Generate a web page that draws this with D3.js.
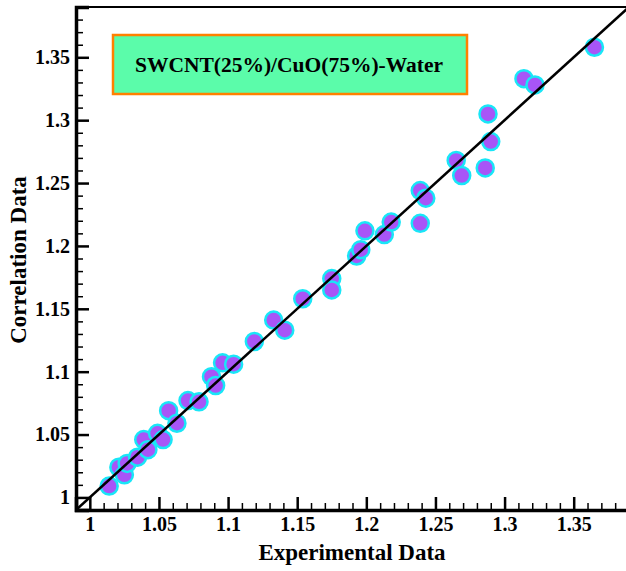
<!DOCTYPE html>
<html>
<head>
<meta charset="utf-8">
<script src="https://cdn.jsdelivr.net/npm/d3@7"></script>
<style>
  body { margin: 0; background: #fff; }
  text { font-family: "Liberation Serif", "Times New Roman", serif; font-weight: bold; fill: #000; }
</style>
</head>
<body>
<div id="chart"></div>
<script>
// experimental vs correlation values
var experimental = [1.014, 1.021, 1.025, 1.027, 1.0345, 1.039, 1.042, 1.049, 1.053, 1.057, 1.063,
    1.071, 1.079, 1.088, 1.091, 1.096, 1.104, 1.119, 1.133, 1.141, 1.154, 1.175, 1.175,
    1.193, 1.196, 1.199, 1.213, 1.218, 1.239, 1.243, 1.239, 1.265, 1.269, 1.286, 1.288,
    1.290, 1.314, 1.322, 1.365]
var correlation = [1.009, 1.024, 1.018, 1.027, 1.032, 1.046, 1.038, 1.051, 1.046, 1.069, 1.059,
    1.077, 1.076, 1.096, 1.089, 1.107, 1.106, 1.124, 1.141, 1.133, 1.158, 1.174, 1.165,
    1.192, 1.197, 1.212, 1.209, 1.219, 1.244, 1.238, 1.218, 1.268, 1.256, 1.262, 1.305,
    1.283, 1.333, 1.328, 1.358]

var xTickLabels = ["1", "1.05", "1.1", "1.15", "1.2", "1.25", "1.3", "1.35"]
var yTickLabels = ["1", "1.05", "1.1", "1.15", "1.2", "1.25", "1.3", "1.35"]
var legendLabel = "SWCNT(25%)/CuO(75%)-Water"

function draw() {
    const W = 626, H = 571
    const mLeft = 76, mTop = 7, mRight = 629, mBottom = 510
    const domain = [0.99, 1.39]

    var svg = d3.select("#chart").append("svg")
        .attr("width", W)
        .attr("height", H)

    var x = d3.scaleLinear().domain(domain).range([mLeft, mRight])
    var y = d3.scaleLinear().domain(domain).range([mBottom, mTop])

    var majors = xTickLabels.map(Number)
    var minors = d3.range(99, 139).map(d => d / 100).filter(v => !majors.some(m => Math.abs(m - v) < 1e-6))

    // frame (right side runs off the image like the original)
    svg.append("rect")
        .attr("x", mLeft).attr("y", mTop)
        .attr("width", mRight - mLeft).attr("height", mBottom - mTop)
        .attr("fill", "none").attr("stroke", "#000").attr("stroke-width", 2)

    // legend box
    svg.append("rect")
        .attr("x", 113).attr("y", 35)
        .attr("width", 354).attr("height", 59)
        .attr("fill", "#5bfcaa").attr("stroke", "#ff8000").attr("stroke-width", 2.5)
    svg.append("text")
        .attr("x", 289).attr("y", 72)
        .attr("text-anchor", "middle")
        .style("font-size", "21.5px")
        .text(legendLabel)

    // points
    var pts = experimental.map((v, i) => ({ e: v, c: correlation[i] }))
    svg.append("g").selectAll("circle")
        .data(pts)
        .enter().append("circle")
        .attr("cx", d => x(d.e))
        .attr("cy", d => y(d.c))
        .attr("r", 8.5)
        .attr("fill", "#a855f7")
        .attr("stroke", "#19e6f7")
        .attr("stroke-width", 2.5)

    // y = x line, on top of the points
    svg.append("line")
        .attr("x1", x(domain[0])).attr("y1", y(domain[0]))
        .attr("x2", x(domain[1])).attr("y2", y(domain[1]))
        .attr("stroke", "#000").attr("stroke-width", 2.5)

    // axes: ticks point inward
    var xAxis = svg.append("g")
        .attr("transform", "translate(0," + mBottom + ")")
        .call(d3.axisBottom(x).tickValues(majors).tickSize(-13).tickPadding(7)
            .tickFormat((d, i) => xTickLabels[i]))
    svg.append("g")
        .attr("transform", "translate(0," + mBottom + ")")
        .call(d3.axisBottom(x).tickValues(minors).tickSize(-7).tickFormat(""))
        .call(g => g.select(".domain").remove())

    var yAxis = svg.append("g")
        .attr("transform", "translate(" + mLeft + ",0)")
        .call(d3.axisLeft(y).tickValues(majors).tickSize(-13).tickPadding(6)
            .tickFormat((d, i) => yTickLabels[i]))
    svg.append("g")
        .attr("transform", "translate(" + mLeft + ",0)")
        .call(d3.axisLeft(y).tickValues(minors).tickSize(-7).tickFormat(""))
        .call(g => g.select(".domain").remove())

    svg.selectAll(".domain").attr("stroke-width", 3.5)
    svg.selectAll(".tick line").attr("stroke-width", 1.5)
    xAxis.selectAll(".tick line").attr("stroke-width", 2.5)
    yAxis.selectAll(".tick line").attr("stroke-width", 2.5)
    svg.selectAll(".tick text")
        .style("font-size", "20px")
        .style("font-family", "'Liberation Serif', 'Times New Roman', serif")
        .style("font-weight", "bold")
        .attr("fill", "#000")

    // axis titles
    svg.append("text")
        .attr("x", 352).attr("y", 560)
        .attr("text-anchor", "middle")
        .style("font-size", "23px")
        .text("Experimental Data")

    svg.append("text")
        .attr("transform", "translate(26,260) rotate(-90)")
        .attr("text-anchor", "middle")
        .style("font-size", "23px")
        .text("Correlation Data")
}

draw()
</script>
</body>
</html>
